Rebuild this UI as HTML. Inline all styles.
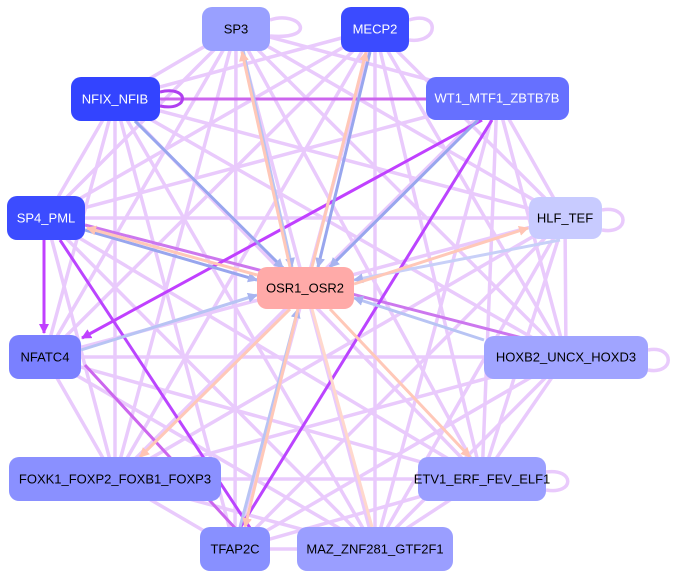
<!DOCTYPE html>
<html><head><style>
html,body{margin:0;padding:0;background:#fff;width:678px;height:578px;overflow:hidden}
svg text{font-family:"Liberation Sans",Arial,sans-serif;font-size:13px;text-anchor:middle;dominant-baseline:central}
</style></head><body>
<svg width="678" height="578" viewBox="0 0 678 578" xmlns="http://www.w3.org/2000/svg">
<defs>
<marker id="al" markerWidth="8" markerHeight="8" refX="7" refY="4" orient="auto" markerUnits="userSpaceOnUse"><path d="M0,0L8,4L0,8z" fill="#e6c4fb"/></marker>
<marker id="ad" markerWidth="10" markerHeight="10" refX="9" refY="5" orient="auto" markerUnits="userSpaceOnUse"><path d="M0,0L10,5L0,10z" fill="#c040ff"/></marker>
<marker id="ab" markerWidth="10" markerHeight="10" refX="9" refY="5" orient="auto" markerUnits="userSpaceOnUse"><path d="M0,0L10,5L0,10z" fill="#a8b4f0"/></marker>
<marker id="ap" markerWidth="10" markerHeight="10" refX="9" refY="5" orient="auto" markerUnits="userSpaceOnUse"><path d="M0,0L10,5L0,10z" fill="#ffc4b4"/></marker>
</defs>
<g stroke="#e8c8fc" stroke-width="3.5" fill="none" opacity="0.95">
<!-- light edges between outer nodes -->
<path d="M236,28L115,99M236,28L497,98M236,28L565,218M236,28L46,218M236,28L45,357M236,28L566,357M236,28L115,479M236,28L482,479M236,28L235,549M236,28L375,549"/>
<path d="M375,29L115,99M375,29L565,218M375,29L45,357M375,29L566,357M375,29L115,479M375,29L482,479M375,29L235,549M375,29L375,549M375,29L46,218"/>
<path d="M115,99L565,218M115,99L46,218M115,99L45,357M115,99L566,357M115,99L115,479M115,99L482,479M115,99L235,549M115,99L375,549"/>
<path d="M497,98L565,218M497,98L46,218M497,98L566,357M497,98L115,479M497,98L482,479M497,98L375,549"/>
<path d="M46,218L565,218M46,218L115,479M46,218L482,479M46,218L375,549"/>
<path d="M565,218L45,357M565,218L566,357M565,218L115,479M565,218L482,479M565,218L235,549M565,218L375,549"/>
<path d="M45,357L566,357M45,357L115,479M45,357L482,479M45,357L375,549"/>
<path d="M566,357L115,479M566,357L482,479M566,357L235,549M566,357L375,549"/>
<path d="M115,479L482,479M115,479L235,549M115,479L375,549"/>
<path d="M482,479L235,549M482,479L375,549M235,549L375,549"/>
<path d="M270,20C300,10 320,40 270,36"/>
<path d="M409,20C440,10 440,44 409,40"/>
<path d="M602,210C630,205 630,235 602,230"/>
<path d="M648,350C675,345 675,375 648,370"/>
<path d="M546,472C575,468 575,495 546,490"/>
</g>
<g fill="none" stroke-width="3">
<path d="M160,99L426,99" stroke="#cc66ee"/>
<path d="M160,92C190,85 190,112 160,106" stroke="#b040f0"/>
<path d="M85,225L530,340" stroke="#cc77ee"/>
<path d="M44,240L44,333" stroke="#c040ff" marker-end="url(#ad)"/>
<path d="M60,240L250,528" stroke="#bb44ff"/>
<path d="M482,120L82,338" stroke="#c040ff" marker-end="url(#ad)"/>
<path d="M492,120L240,528" stroke="#bb44ff"/>
<path d="M235,528L85,365" stroke="#cc66ee"/>
<!-- blue into OSR -->
<path d="M135,121L283,268" stroke="#98a6ee" marker-end="url(#ab)"/>
<path d="M370,52L318,267" stroke="#98a6ee" marker-end="url(#ab)"/>
<path d="M478,120L330,267" stroke="#98a6ee" marker-end="url(#ab)"/>
<path d="M85,230L257,280" stroke="#98a6ee" marker-end="url(#ab)"/>
<path d="M81,350L257,295" stroke="#b8c4f4" marker-end="url(#ab)"/>
<path d="M484,340L354,298" stroke="#b8c4f4" marker-end="url(#ab)"/>
<path d="M240,527L298,309" stroke="#b8c4f4" marker-end="url(#ab)"/>
<path d="M243,50L292,267" stroke="#b8c4f4" marker-end="url(#ab)"/>
<path d="M560,240L354,280" stroke="#c8d0f8" marker-end="url(#ab)"/>
<!-- peach from OSR -->
<path d="M290,267L242,52" stroke="#ffc8b8" marker-end="url(#ap)"/>
<path d="M312,267L366,52" stroke="#ffc8b8" marker-end="url(#ap)"/>
<path d="M257,275L87,228" stroke="#ffc8b8" marker-end="url(#ap)"/>
<path d="M354,284L528,228" stroke="#ffc8b8" marker-end="url(#ap)"/>
<path d="M290,309L140,457" stroke="#ffc8b8" marker-end="url(#ap)"/>
<path d="M330,309L470,457" stroke="#ffc8b8" marker-end="url(#ap)"/>
<path d="M298,309L245,527" stroke="#ffc8b8" marker-end="url(#ap)"/>
<path d="M312,309L372,527" stroke="#ffd8cc"/>
</g>
<g>
<rect x="202" y="7" width="68" height="44" rx="10" fill="#99a0ff"/><text x="236" y="29" fill="#000">SP3</text>
<rect x="341" y="7" width="68" height="45" rx="10" fill="#3b4bff"/><text x="375" y="29" fill="#fff">MECP2</text>
<rect x="71" y="77" width="89" height="44" rx="10" fill="#3344ff"/><text x="115" y="99" fill="#fff">NFIX_NFIB</text>
<rect x="426" y="77" width="143" height="43" rx="10" fill="#6670ff"/><text x="497" y="98" fill="#fff">WT1_MTF1_ZBTB7B</text>
<rect x="7" y="196" width="78" height="44" rx="10" fill="#3c4cff"/><text x="46" y="218" fill="#fff">SP4_PML</text>
<rect x="529" y="197" width="73" height="42" rx="10" fill="#c8cbff"/><text x="565" y="218" fill="#000">HLF_TEF</text>
<rect x="257" y="267" width="97" height="42" rx="10" fill="#ffaaa8"/><text x="305" y="288" fill="#000">OSR1_OSR2</text>
<rect x="9" y="335" width="72" height="44" rx="10" fill="#7a80ff"/><text x="45" y="357" fill="#000">NFATC4</text>
<rect x="484" y="336" width="164" height="43" rx="10" fill="#a0a4ff"/><text x="566" y="357" fill="#000">HOXB2_UNCX_HOXD3</text>
<rect x="9" y="457" width="212" height="44" rx="10" fill="#8a90ff"/><text x="115" y="479" fill="#000">FOXK1_FOXP2_FOXB1_FOXP3</text>
<rect x="418" y="457" width="128" height="44" rx="10" fill="#9a9fff"/><text x="482" y="479" fill="#000">ETV1_ERF_FEV_ELF1</text>
<rect x="200" y="527" width="70" height="44" rx="10" fill="#8890ff"/><text x="235" y="549" fill="#000">TFAP2C</text>
<rect x="297" y="527" width="156" height="44" rx="10" fill="#9a9eff"/><text x="375" y="549" fill="#000">MAZ_ZNF281_GTF2F1</text>
</g>
</svg>
</body></html>
